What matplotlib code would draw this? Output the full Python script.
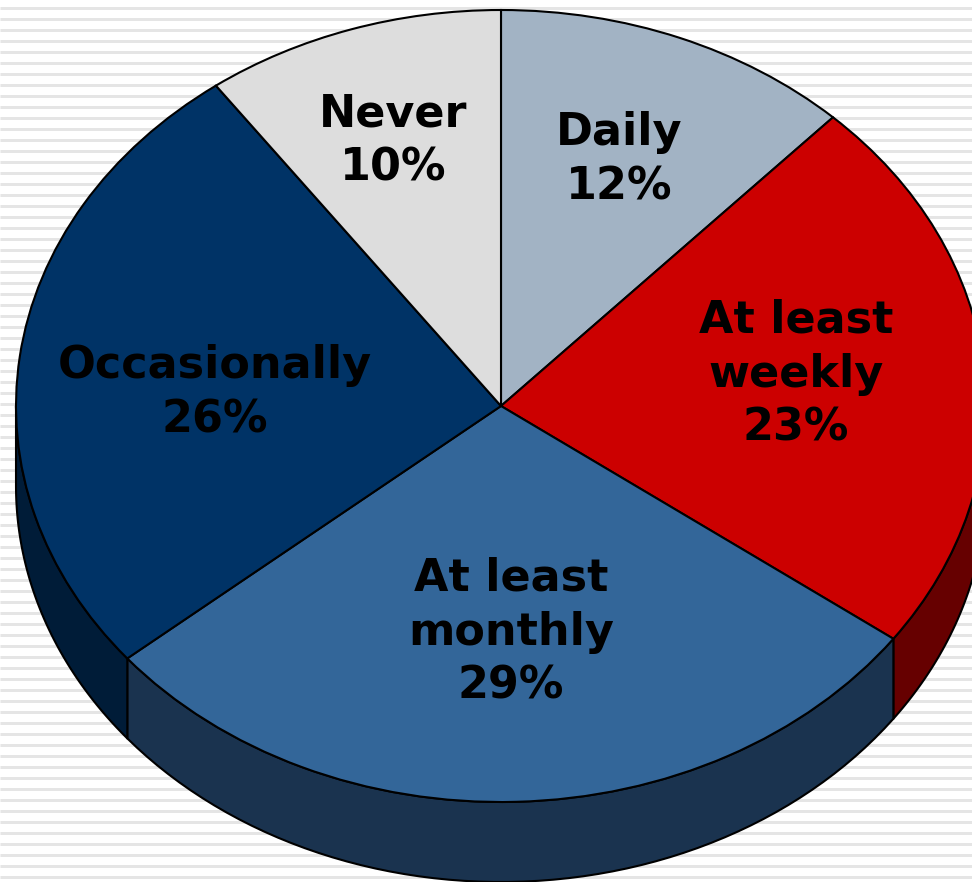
import matplotlib
matplotlib.use('Agg')
import matplotlib.pyplot as plt
import numpy as np

labels = ['Daily', 'At least\nweekly', 'At least\nmonthly', 'Occasionally', 'Never']
values = [12, 23, 29, 26, 10]
top_colors = ['#a2b3c4', '#cc0000', '#336699', '#003366', '#dddddd']
wall_colors = ['#7a8693', '#660000', '#1a334f', '#001c38', '#a6a6a6']

# position du texte en pixels de l'image
label_pos = [(619, 160), (796, 374), (511, 632), (215, 393), (393, 141)]

W, H = 972, 882
cx, cy, rx, ry = 501, 406, 485, 396
depth = 80 / ry

fig = plt.figure(figsize=(W / 100, H / 100), dpi=100)

# fond a rayures et textes, en coordonnees pixels
bg = fig.add_axes([0, 0, 1, 1], zorder=0)
bg.set_xlim(0, W)
bg.set_ylim(H, 0)
bg.axis('off')
bg.hlines(np.arange(7.5, H, 11), 0, W, color='#e5e5e5', lw=2.16)

ax = fig.add_axes([0, 0, 1, 1], zorder=1)
ax.patch.set_alpha(0)

# les parois d'abord, le dessus de la tarte passe par-dessus
start = 0.0
for v, wc in zip(values, wall_colors):
    # angle compte depuis midi dans le sens horaire
    a0, a1 = start, start + v / sum(values) * 360
    start = a1
    lo, hi = max(a0, 90), min(a1, 270)
    if lo >= hi:
        continue
    t = np.radians(np.linspace(lo, hi, 60))
    x, y = np.sin(t), np.cos(t)
    ax.fill(np.r_[x, x[::-1]], np.r_[y, y[::-1] - depth], facecolor=wc,
            edgecolor='black', lw=1.5, joinstyle='round')

ax.pie(values, colors=top_colors, startangle=90, counterclock=False, radius=1,
       wedgeprops={'edgecolor': 'black', 'linewidth': 1.5})

# la tarte est une ellipse : on annule l'aspect egal
ax.set_aspect('auto')
ax.set_xlim(-cx / rx, (W - cx) / rx)
ax.set_ylim((cy - H) / ry, cy / ry)
ax.axis('off')

overlay = fig.add_axes([0, 0, 1, 1], zorder=2)
overlay.set_xlim(0, W)
overlay.set_ylim(H, 0)
overlay.axis('off')
overlay.patch.set_alpha(0)
for lab, v, (px, py) in zip(labels, values, label_pos):
    overlay.text(px, py, f'{lab}\n{v}%', ha='center', va='center', fontsize=32,
                 fontweight='bold', family='DejaVu Sans', color='black',
                 linespacing=1.33)

fig.savefig('out.png', dpi=100)
